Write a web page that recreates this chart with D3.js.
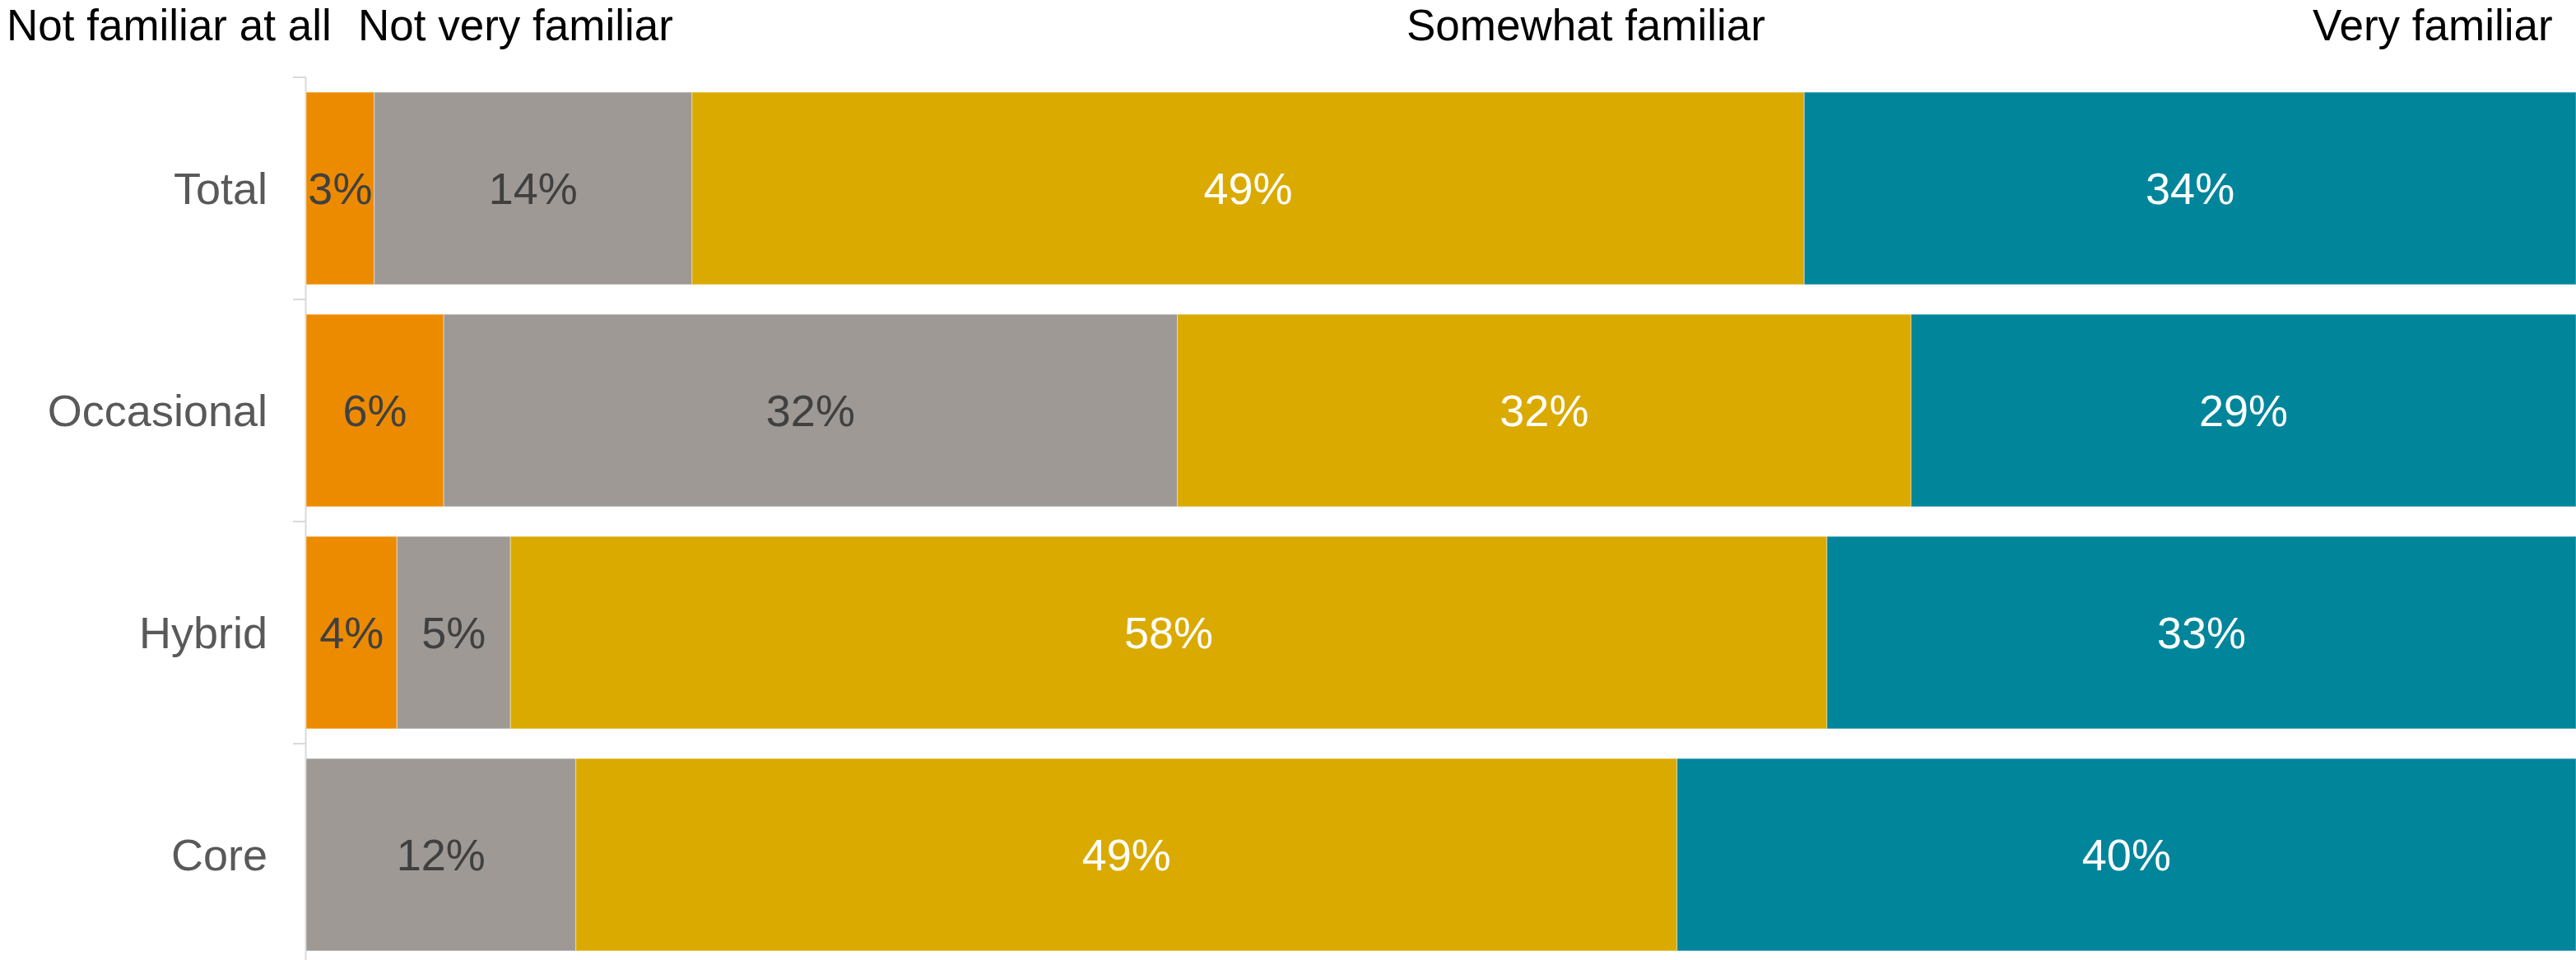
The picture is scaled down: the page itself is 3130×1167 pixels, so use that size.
<!DOCTYPE html>
<html>
<head>
<meta charset="utf-8">
<script src="https://cdn.jsdelivr.net/npm/d3@7"></script>
<style>
  html, body { margin: 0; padding: 0; background: #ffffff; }
  svg { display: block; font-family: "Liberation Sans", Arial, sans-serif; }
</style>
</head>
<body>
<svg id="chart" width="3130" height="1167"></svg>
<script>
// Familiarity by segment (percent of respondents)
const categories = ["Total", "Occasional", "Hybrid", "Core"];
const seriesNames = ["Not familiar at all", "Not very familiar", "Somewhat familiar", "Very familiar"];
const notFamiliarAtAll = [3, 6, 4, 0];
const notVeryFamiliar = [14, 32, 5, 12];
const somewhatFamiliar = [49, 32, 58, 49];
const veryFamiliar = [34, 29, 33, 40];

// Styling and layout
const colors = ["#ED8B00", "#9E9995", "#DAAA00", "#00859B"];
const labelColors = ["#404040", "#404040", "#ffffff", "#ffffff"];
const legendStartX = [8, 435, 1709, 2810];

const W = 3130, H = 1167;
const margin = { left: 372, right: 0, top: 94 };
const rowStep = 270;

const seriesValues = [notFamiliarAtAll, notVeryFamiliar, somewhatFamiliar, veryFamiliar];
const rows = categories.map((c, i) => {
  const r = { category: c };
  seriesNames.forEach((s, k) => { r[s] = seriesValues[k][i]; });
  return r;
});

// Each row is normalised to its own total so every bar spans the full width
const stacked = d3.stack()
  .keys(seriesNames)
  .offset(d3.stackOffsetExpand)(rows);

const x = d3.scaleLinear().domain([0, 1]).range([margin.left, W - margin.right]);
const y = d3.scaleBand()
  .domain(categories)
  .range([margin.top, margin.top + rowStep * categories.length])
  .paddingInner(0.134)
  .paddingOuter(0.067);

const svg = d3.select("#chart");

// Category axis: light vertical rule with ticks between rows
const axisG = svg.append("g").attr("class", "axis");
axisG.append("line")
  .attr("x1", margin.left - 0.5).attr("x2", margin.left - 0.5)
  .attr("y1", y.range()[0]).attr("y2", y.range()[1])
  .attr("stroke", "#d9d9d9").attr("stroke-width", 2);
const tickYs = d3.range(categories.length + 1).map(i => y.range()[0] + i * y.step());
axisG.selectAll("line.tick").data(tickYs).join("line")
  .attr("class", "tick")
  .attr("x1", margin.left - 16).attr("x2", margin.left)
  .attr("y1", d => d).attr("y2", d => d)
  .attr("stroke", "#d9d9d9").attr("stroke-width", 2);

axisG.selectAll("text.cat").data(categories).join("text")
  .attr("class", "cat")
  .attr("x", margin.left - 47)
  .attr("y", d => y(d) + y.bandwidth() / 2)
  .attr("dy", "0.35em")
  .attr("text-anchor", "end")
  .attr("font-size", 54)
  .attr("fill", "#595959")
  .text(d => d);

// Stacked bar segments
const layers = svg.append("g").selectAll("g.layer").data(stacked).join("g")
  .attr("class", "layer")
  .attr("fill", (d, i) => colors[i]);

layers.selectAll("rect").data(d => d).join("rect")
  .attr("x", d => x(d[0]))
  .attr("y", d => y(d.data.category))
  .attr("width", d => Math.max(0, x(d[1]) - x(d[0])))
  .attr("height", y.bandwidth())
  .attr("stroke", "rgba(255,255,255,0.35)")
  .attr("stroke-width", 1.2);

// Value labels centred in each segment
const labelLayers = svg.append("g").selectAll("g.labels").data(stacked).join("g")
  .attr("class", "labels")
  .attr("fill", (d, i) => labelColors[i]);

labelLayers.selectAll("text")
  .data(d => d.filter(p => p.data[d.key] > 0).map(p => ({ p, key: d.key })))
  .join("text")
  .attr("x", d => (x(d.p[0]) + x(d.p[1])) / 2)
  .attr("y", d => y(d.p.data.category) + y.bandwidth() / 2)
  .attr("dy", "0.35em")
  .attr("text-anchor", "middle")
  .attr("font-size", 54)
  .text(d => d.p.data[d.key] + "%");

// Series names across the top
svg.append("g").selectAll("text").data(seriesNames).join("text")
  .attr("x", (d, i) => legendStartX[i])
  .attr("y", 49)
  .attr("font-size", 53)
  .attr("fill", "#000000")
  .text(d => d);
</script>
</body>
</html>
